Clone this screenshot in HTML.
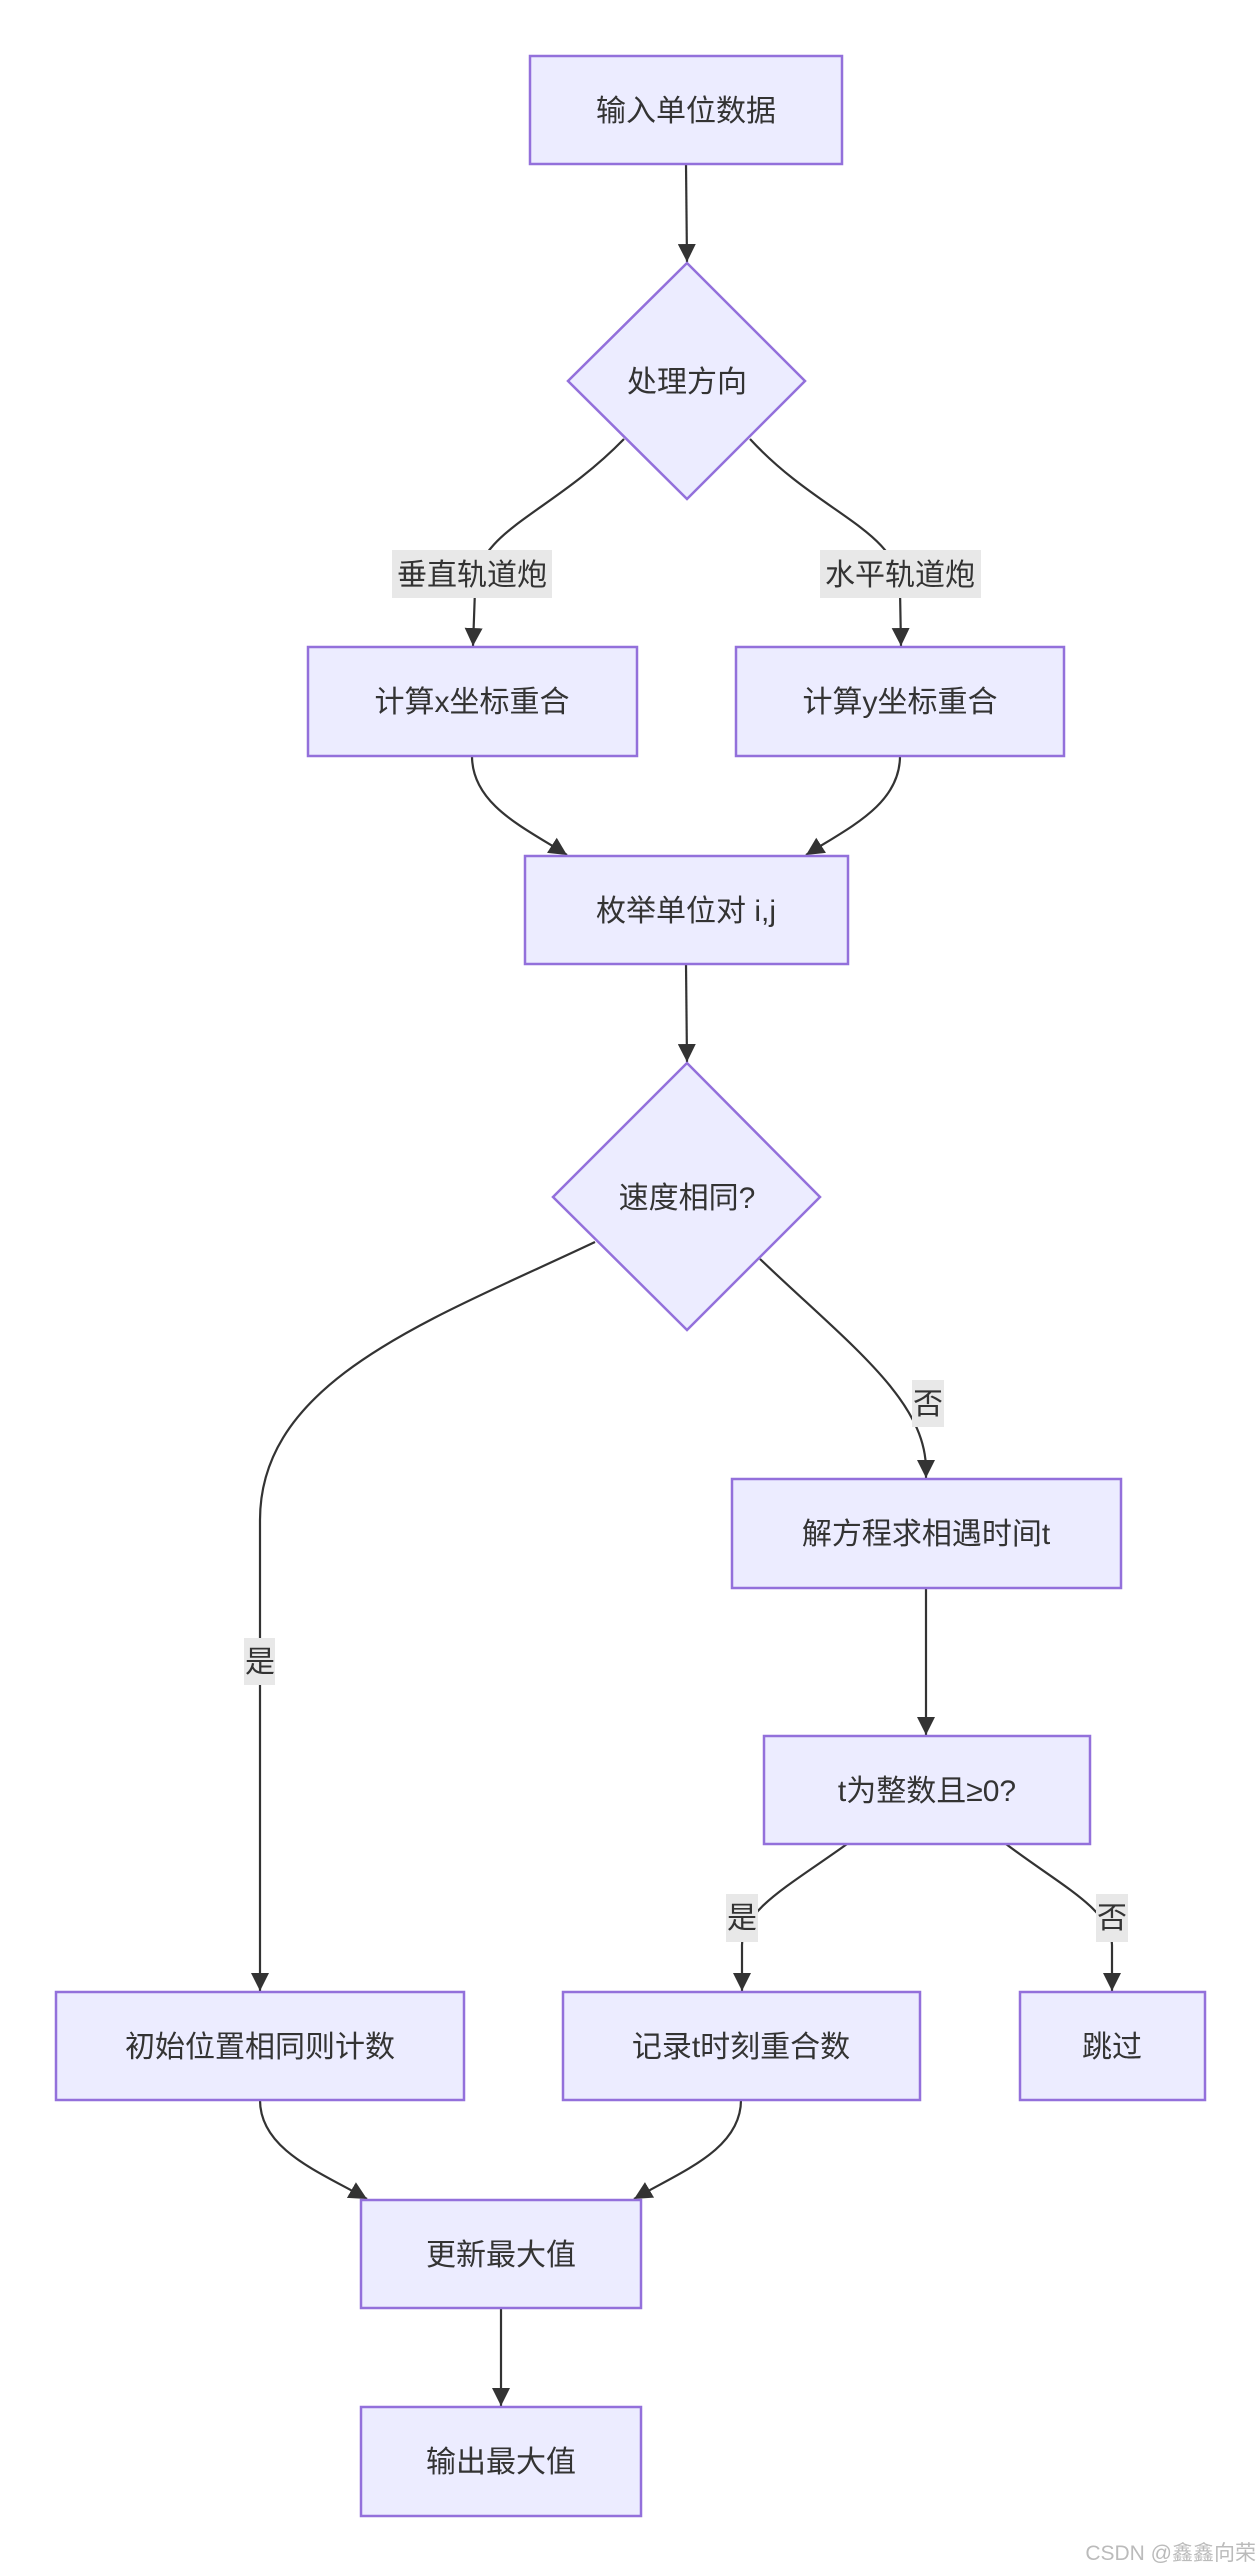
<!DOCTYPE html>
<html><head><meta charset="utf-8"><style>
html,body{margin:0;padding:0;background:#fff;}
svg{display:block;}
text{font-family:"Liberation Sans","Noto Sans CJK SC",sans-serif;fill:#333;}
.n{fill:#ECECFF;stroke:#9370DB;stroke-width:2.5;}
.e{fill:none;stroke:#333;stroke-width:2.2;}
.lb{fill:#e8e8e8;}
</style></head><body>
<svg width="1260" height="2572" viewBox="0 0 1260 2572" xmlns="http://www.w3.org/2000/svg">
<defs><marker id="a" viewBox="0 0 10 10" refX="9" refY="5" markerWidth="7" markerHeight="7" markerUnits="userSpaceOnUse" orient="auto"><path d="M0,0L10,5L0,10z" fill="#333"/></marker>
<marker id="b" viewBox="0 0 10 10" refX="10" refY="5" markerWidth="18" markerHeight="18" markerUnits="userSpaceOnUse" orient="auto"><path d="M0,0L10,5L0,10z" fill="#333"/></marker></defs>

<!-- edges -->
<path class="e" d="M686,164 L687,262" marker-end="url(#b)"/>
<path class="e" d="M624,439 C550,515 475,530 475,590 L473,646" marker-end="url(#b)"/>
<path class="e" d="M750,439 C820,515 900,530 900,590 L901,646" marker-end="url(#b)"/>
<path class="e" d="M472,756 C472,805 525,828 567,855" marker-end="url(#b)"/>
<path class="e" d="M900,756 C900,805 848,828 806,855" marker-end="url(#b)"/>
<path class="e" d="M686,964 L687,1062" marker-end="url(#b)"/>
<path class="e" d="M595,1242 C430,1320 260,1380 260,1520 L260,1991" marker-end="url(#b)"/>
<path class="e" d="M760,1259 C850,1345 926,1400 926,1470 L926,1478" marker-end="url(#b)"/>
<path class="e" d="M926,1588 L926,1735" marker-end="url(#b)"/>
<path class="e" d="M847,1844 C790,1885 742,1910 742,1945 L742,1991" marker-end="url(#b)"/>
<path class="e" d="M1006,1844 C1060,1885 1112,1910 1112,1945 L1112,1991" marker-end="url(#b)"/>
<path class="e" d="M260,2100 C260,2150 320,2172 367,2199" marker-end="url(#b)"/>
<path class="e" d="M741,2100 C741,2150 680,2172 634,2199" marker-end="url(#b)"/>
<path class="e" d="M501,2308 L501,2406" marker-end="url(#b)"/>

<!-- edge labels -->
<rect class="lb" x="392" y="550" width="160" height="48"/><text x="472" y="585" font-size="30" text-anchor="middle">垂直轨道炮</text>
<rect class="lb" x="820" y="550" width="161" height="48"/><text x="900" y="585" font-size="30" text-anchor="middle">水平轨道炮</text>
<rect class="lb" x="244" y="1638" width="31" height="47"/><text x="260" y="1672" font-size="30" text-anchor="middle">是</text>
<rect class="lb" x="912" y="1380" width="32" height="47"/><text x="928" y="1414" font-size="30" text-anchor="middle">否</text>
<rect class="lb" x="726" y="1894" width="32" height="48"/><text x="742" y="1928" font-size="30" text-anchor="middle">是</text>
<rect class="lb" x="1096" y="1894" width="32" height="48"/><text x="1112" y="1928" font-size="30" text-anchor="middle">否</text>

<!-- nodes -->
<rect class="n" x="530" y="56" width="312" height="108"/><text x="686" y="121" font-size="30" text-anchor="middle">输入单位数据</text>
<polygon class="n" points="687,263 805,381 687,499 568,381"/><text x="687" y="392" font-size="30" text-anchor="middle">处理方向</text>
<rect class="n" x="308" y="647" width="329" height="109"/><text x="472" y="712" font-size="30" text-anchor="middle">计算x坐标重合</text>
<rect class="n" x="736" y="647" width="328" height="109"/><text x="900" y="712" font-size="30" text-anchor="middle">计算y坐标重合</text>
<rect class="n" x="525" y="856" width="323" height="108"/><text x="686" y="921" font-size="30" text-anchor="middle">枚举单位对 i,j</text>
<polygon class="n" points="687,1063 820,1197 687,1330 553,1197"/><text x="687" y="1208" font-size="30" text-anchor="middle">速度相同?</text>
<rect class="n" x="732" y="1479" width="389" height="109"/><text x="926" y="1544" font-size="30" text-anchor="middle">解方程求相遇时间t</text>
<rect class="n" x="764" y="1736" width="326" height="108"/><text x="927" y="1801" font-size="30" text-anchor="middle">t为整数且≥0?</text>
<rect class="n" x="56" y="1992" width="408" height="108"/><text x="260" y="2057" font-size="30" text-anchor="middle">初始位置相同则计数</text>
<rect class="n" x="563" y="1992" width="357" height="108"/><text x="741" y="2057" font-size="30" text-anchor="middle">记录t时刻重合数</text>
<rect class="n" x="1020" y="1992" width="185" height="108"/><text x="1112" y="2057" font-size="30" text-anchor="middle">跳过</text>
<rect class="n" x="361" y="2200" width="280" height="108"/><text x="501" y="2265" font-size="30" text-anchor="middle">更新最大值</text>
<rect class="n" x="361" y="2407" width="280" height="109"/><text x="501" y="2472" font-size="30" text-anchor="middle">输出最大值</text>

<text x="1256" y="2560" font-size="21" text-anchor="end" style="fill:#bbb">CSDN @鑫鑫向荣</text>
</svg>
</body></html>
